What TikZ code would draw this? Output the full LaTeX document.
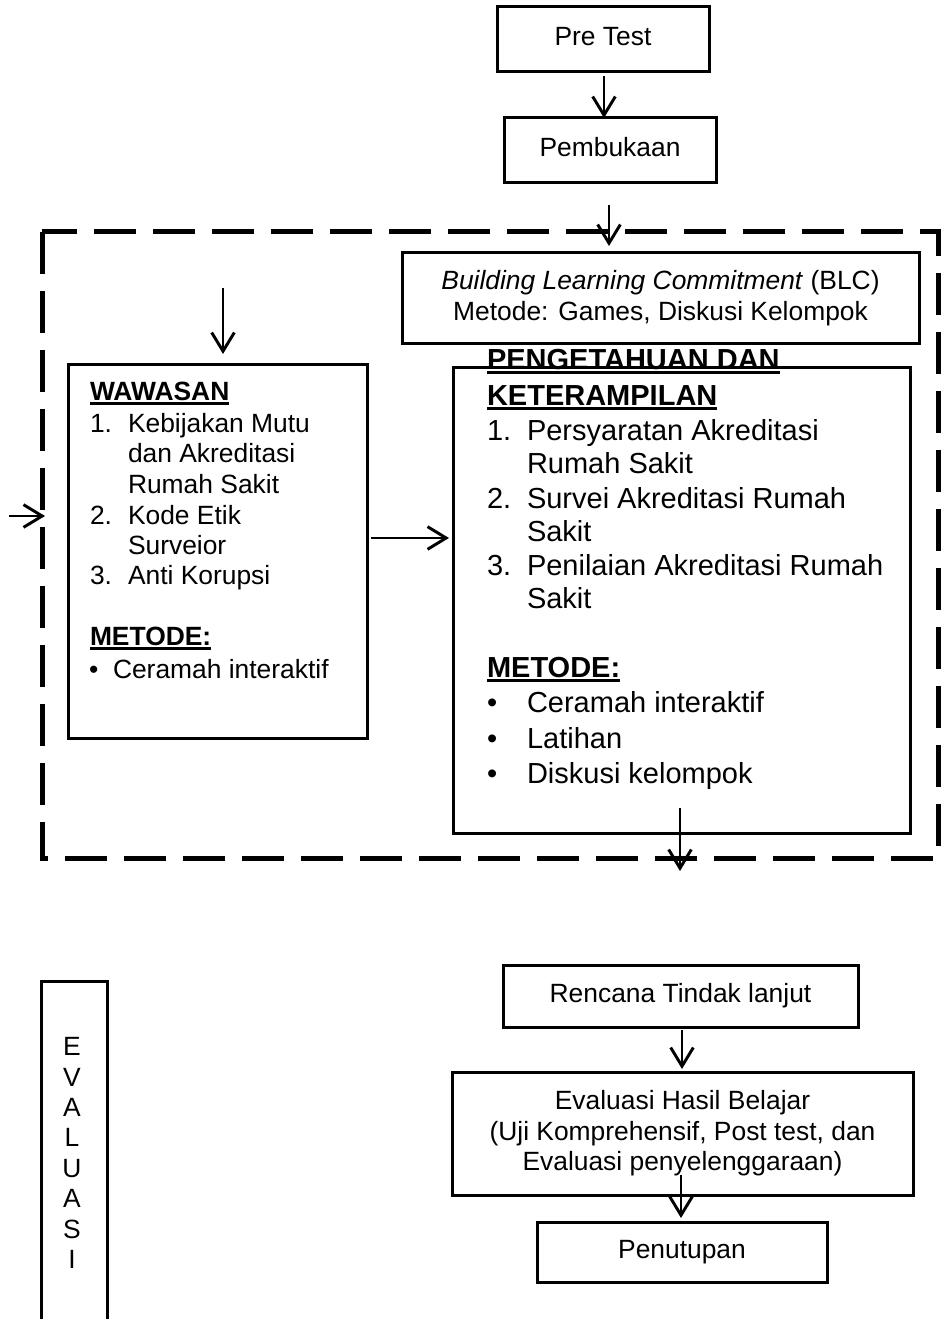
\documentclass[tikz,border=0pt]{standalone}
\usepackage{fontspec}
\setmainfont{Liberation Sans}
\usetikzlibrary{arrows.meta,calc}
\newcommand\fsN{\fontsize{19.8pt}{22.8pt}\selectfont}
\newcommand\fsL{\fontsize{21.75pt}{25.5pt}\selectfont}
\begin{document}
\begin{tikzpicture}[x=0.75pt,y=-0.75pt,
  box/.style={draw, line width=2.25pt, inner sep=0pt, outer sep=0pt, align=center, font=\fsN},
  arr/.style={line width=2.2pt, -{Straight Barb[length=14pt,width=17pt]}},
  txt/.style={inner sep=0pt, outer sep=0pt, anchor=base west, font=\fsN},
  txtL/.style={inner sep=0pt, outer sep=0pt, anchor=base west, font=\fsL},
  uline/.style={line width=1.8pt},
  dashframe/.style={line width=3.75pt, dash pattern=on 31.5pt off 12.75pt},
  frame/.style={line width=2.25pt}
]
\useasboundingbox (0,0) rectangle (941,1319);

% dashed frame
\draw[dashframe] (42,232) rectangle (938,858);

% top boxes
\node[box, minimum width=212*0.75pt, minimum height=65*0.75pt] (pre) at (603,39.5) {Pre Test\strut};
\node[box, minimum width=212*0.75pt, minimum height=65*0.75pt] (pemb) at (610,150.5) {Pembukaan\strut};
\node[box, minimum width=517*0.75pt, minimum height=90*0.75pt] (blc) at (660.5,298)
  {\textit{Building Learning Commitment} (BLC)\\Metode: Games, Diskusi Kelompok};

\node[box, minimum width=299*0.75pt, minimum height=374*0.75pt] (waw) at (217.5,551) {};
\node[box, minimum width=457*0.75pt, minimum height=466*0.75pt] (pk) at (681.5,600) {};

% bottom boxes
\node[box, minimum width=355*0.75pt, minimum height=62*0.75pt] (rtl) at (680.5,996) {Rencana Tindak lanjut\strut};
\node[box, minimum width=461*0.75pt, minimum height=123*0.75pt] (eva) at (682.5,1133.5)
  {Evaluasi Hasil Belajar\\(Uji Komprehensif, Post test, dan\\Evaluasi penyelenggaraan)};
\node[box, minimum width=290*0.75pt, minimum height=60*0.75pt] (pen) at (682,1252) {Penutupan\strut};

% EVALUASI column
\draw[frame] (41,1330) -- (41,981) -- (107,981) -- (107,1330);
\node[inner sep=0pt, align=center, font=\fontsize{19.8pt}{22.8pt}\selectfont] (evl) at (72,1153)
  {E\\V\\A\\L\\U\\A\\S\\I};

% WAWASAN text
\node[txt, font=\fsN\bfseries] (wh) at (90,400) {WAWASAN};
\draw[uline] ($(wh.base west)+(0,3.5)$) -- ($(wh.base east)+(0,3.5)$);
\node[txt] (wn1) at (90,432) {1.};
\node[txt] (w1a) at (128,432) {Kebijakan Mutu};
\node[txt] (w1b) at (128,462) {dan Akreditasi};
\node[txt] (w1c) at (128,493) {Rumah Sakit};
\node[txt] (wn2) at (90,524) {2.};
\node[txt] (w2a) at (128,524) {Kode Etik};
\node[txt] (w2b) at (128,554) {Surveior};
\node[txt] (wn3) at (90,584) {3.};
\node[txt] (w3a) at (128,584) {Anti Korupsi};
\node[txt, font=\fsN\bfseries] (wm) at (90,645) {METODE:};
\draw[uline] ($(wm.base west)+(0,3.5)$) -- ($(wm.base east)+(0,3.5)$);
\node[txt] (wb1) at (89,678) {•};
\node[txt] (wm1) at (113,678) {Ceramah interaktif};

% PENGETAHUAN text
\node[txtL, font=\fsL\bfseries] (ph1) at (487,369) {PENGETAHUAN DAN};
\draw[uline] ($(ph1.base west)+(0,3.5)$) -- ($(ph1.base east)+(0,3.5)$);
\node[txtL, font=\fsL\bfseries] (ph2) at (487,405) {KETERAMPILAN};
\draw[uline] ($(ph2.base west)+(0,3.5)$) -- ($(ph2.base east)+(0,3.5)$);
\node[txtL] (pn1) at (487,440) {1.};
\node[txtL] (p1a) at (527,440) {Persyaratan Akreditasi};
\node[txtL] (p1b) at (527,473) {Rumah Sakit};
\node[txtL] (pn2) at (487,508) {2.};
\node[txtL] (p2a) at (527,508) {Survei Akreditasi Rumah};
\node[txtL] (p2b) at (527,541) {Sakit};
\node[txtL] (pn3) at (487,575) {3.};
\node[txtL] (p3a) at (527,575) {Penilaian Akreditasi Rumah};
\node[txtL] (p3b) at (527,608) {Sakit};
\node[txtL, font=\fsL\bfseries] (pm) at (487,677) {METODE:};
\draw[uline] ($(pm.base west)+(0,3.5)$) -- ($(pm.base east)+(0,3.5)$);
\node[txtL] (pb1) at (487,712) {•};
\node[txtL] (pm1) at (527,712) {Ceramah interaktif};
\node[txtL] (pb2) at (487,748) {•};
\node[txtL] (pm2) at (527,748) {Latihan};
\node[txtL] (pb3) at (487,783) {•};
\node[txtL] (pm3) at (527,783) {Diskusi kelompok};

% connectors
\draw[arr] (pre.south) ++(1,4) coordinate (a1s) -- (a1s |- pemb.north);
\coordinate (a2s) at ($(pemb.south)+(-1,22)$);
\coordinate (a2e) at ($(pemb.south)+(-1,63)$);
\draw[arr] (a2s) -- (a2e);
\coordinate (a3s) at (223,288);
\coordinate (a3e) at (223,354);
\draw[arr] (a3s) -- (a3e);
\coordinate (a4s) at (9,516);
\coordinate (a4e) at (45,516);
\draw[arr] (a4s) -- (a4e);
\coordinate (mid) at (0,538);
\draw[arr] ($(waw.east |- mid)+(4,0)$) -- ($(pk.west |- mid)+(-4,0)$);
\coordinate (a6s) at ($(pk.south)+(-1.5,-25)$);
\coordinate (a6e) at ($(pk.south)+(-1.5,38)$);
\draw[arr] (a6s) -- (a6e);
\draw[arr] ($(rtl.south)+(1.5,3)$) coordinate (a7s) -- ($(a7s |- eva.north)+(0,-3)$);
\coordinate (a8s) at ($(eva.south)+(-1.5,-20)$);
\draw[arr] (a8s) -- ($(a8s |- pen.north)+(0,-4)$);
\end{tikzpicture}
\end{document}
